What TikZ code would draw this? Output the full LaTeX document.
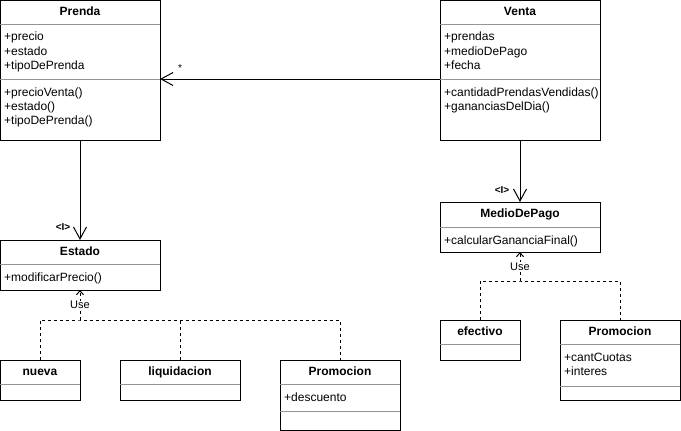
\documentclass[tikz,border=0pt]{standalone}
\usepackage{fontspec}
\setmainfont{Liberation Sans}
\usetikzlibrary{arrows.meta}
\begin{document}
\begin{tikzpicture}[x=1pt,y=-1pt,
  box/.style={draw=black, line width=1pt, anchor=north west, inner sep=0pt, outer sep=0pt},
  sepline/.style={draw=black!42, line width=1pt},
  ttl/.style={font=\fontsize{12}{14}\selectfont\bfseries, anchor=base, inner sep=0pt},
  txt/.style={font=\fontsize{12}{14}\selectfont, anchor=base west, inner sep=0pt},
  conn/.style={draw=black, line width=1pt},
  bigopen/.style={-{Straight Barb[length=12pt,width=13pt,line width=1pt]}},
  useline/.style={draw=black, line width=1pt, dash pattern=on 3pt off 3pt},
  usearrow/.style={-{Straight Barb[length=4pt,width=7pt,line width=1pt]}},
  uselbl/.style={font=\fontsize{11}{13}\selectfont, fill=white, inner sep=0.5pt},
  ilbl/.style={font=\fontsize{10}{12}\selectfont\bfseries, inner sep=0pt},
]
\useasboundingbox (0,0) rectangle (681,431);

% ---------- Prenda ----------
\node[box, minimum width=160pt, minimum height=140pt] (prenda) at (0,0) {};
\draw[sepline] (0,24) -- (160,24);
\draw[sepline] (0,79) -- (160,79);
\node[ttl] (prendaT) at (80,15.5) {Prenda};
\node[txt] (pa1) at (4,41) {+precio};
\node[txt] (pa2) at (4,55) {+estado};
\node[txt] (pa3) at (4,69) {+tipoDePrenda};
\node[txt] (pm1) at (4,96) {+precioVenta()};
\node[txt] (pm2) at (4,110) {+estado()};
\node[txt] (pm3) at (4,124) {+tipoDePrenda()};

% ---------- Venta ----------
\node[box, minimum width=160pt, minimum height=140pt] (venta) at (440,0) {};
\draw[sepline] (440,24) -- (600,24);
\draw[sepline] (440,79) -- (600,79);
\node[ttl] (ventaT) at (520,15.5) {Venta};
\node[txt] (va1) at (444,41) {+prendas};
\node[txt] (va2) at (444,55) {+medioDePago};
\node[txt] (va3) at (444,69) {+fecha};
\node[txt] (vm1) at (444,96) {+cantidadPrendasVendidas()};
\node[txt] (vm2) at (444,110) {+gananciasDelDia()};

% ---------- Estado ----------
\node[box, minimum width=160pt, minimum height=50pt] (estado) at (0,240) {};
\draw[sepline] (0,264) -- (160,264);
\node[ttl] (estadoT) at (80,255.5) {Estado};
\node[txt] (em1) at (4,281) {+modificarPrecio()};

% ---------- nueva ----------
\node[box, minimum width=80pt, minimum height=40pt] (nueva) at (0,360) {};
\draw[sepline] (0,384) -- (80,384);
\node[ttl] (nuevaT) at (40,375.5) {nueva};

% ---------- liquidacion ----------
\node[box, minimum width=120pt, minimum height=40pt] (liq) at (120,360) {};
\draw[sepline] (120,384) -- (240,384);
\node[ttl] (liqT) at (180,375.5) {liquidacion};

% ---------- Promocion (Estado) ----------
\node[box, minimum width=120pt, minimum height=70pt] (promA) at (280,360) {};
\draw[sepline] (280,384) -- (400,384);
\draw[sepline] (280,411) -- (400,411);
\node[ttl] (promAT) at (340,375.5) {Promocion};
\node[txt] (promAa1) at (284,401) {+descuento};

% ---------- MedioDePago ----------
\node[box, minimum width=160pt, minimum height=50pt] (medio) at (440,202) {};
\draw[sepline] (440,227) -- (600,227);
\node[ttl] (medioT) at (520,217.5) {MedioDePago};
\node[txt] (mm1) at (444,244) {+calcularGananciaFinal()};

% ---------- efectivo ----------
\node[box, minimum width=80pt, minimum height=40pt] (efec) at (440,320) {};
\draw[sepline] (440,344) -- (520,344);
\node[ttl] (efecT) at (480,335.5) {efectivo};

% ---------- Promocion (MedioDePago) ----------
\node[box, minimum width=120pt, minimum height=80pt] (promB) at (560,320) {};
\draw[sepline] (560,344) -- (680,344);
\draw[sepline] (560,386) -- (680,386);
\node[ttl] (promBT) at (620,335.5) {Promocion};
\node[txt] (promBa1) at (564,361) {+cantCuotas};
\node[txt] (promBa2) at (564,375) {+interes};

% ---------- connectors ----------
\draw[conn, bigopen] ([yshift=-79pt]venta.north west) -- ([yshift=-79pt]prenda.north east);
\node[font=\fontsize{10}{12}\selectfont, inner sep=0pt] (star) at (180,68) {*};

\draw[conn, bigopen] (prenda.south) -- (estado.north);
\node[ilbl] (iE) at (63,227) {<I>};

\draw[conn, bigopen] (venta.south) -- (medio.north);
\node[ilbl] (iM) at (502,190) {<I>};

% dashed "Use" (Estado)
\coordinate (jE) at (80,320);
\draw[useline, usearrow] (jE) -- node[uselbl] (useE) {Use} (estado.south);
\draw[useline] (nueva.north) |- (jE) -| (promA.north);
\draw[useline] (liq.north) -- (liq.north |- jE);

% dashed "Use" (MedioDePago)
\coordinate (jM) at (520,281);
\draw[useline, usearrow] (jM) -- node[uselbl] (useM) {Use} (medio.south);
\draw[useline] (efec.north) |- (jM) -| (promB.north);
\end{tikzpicture}
\end{document}
